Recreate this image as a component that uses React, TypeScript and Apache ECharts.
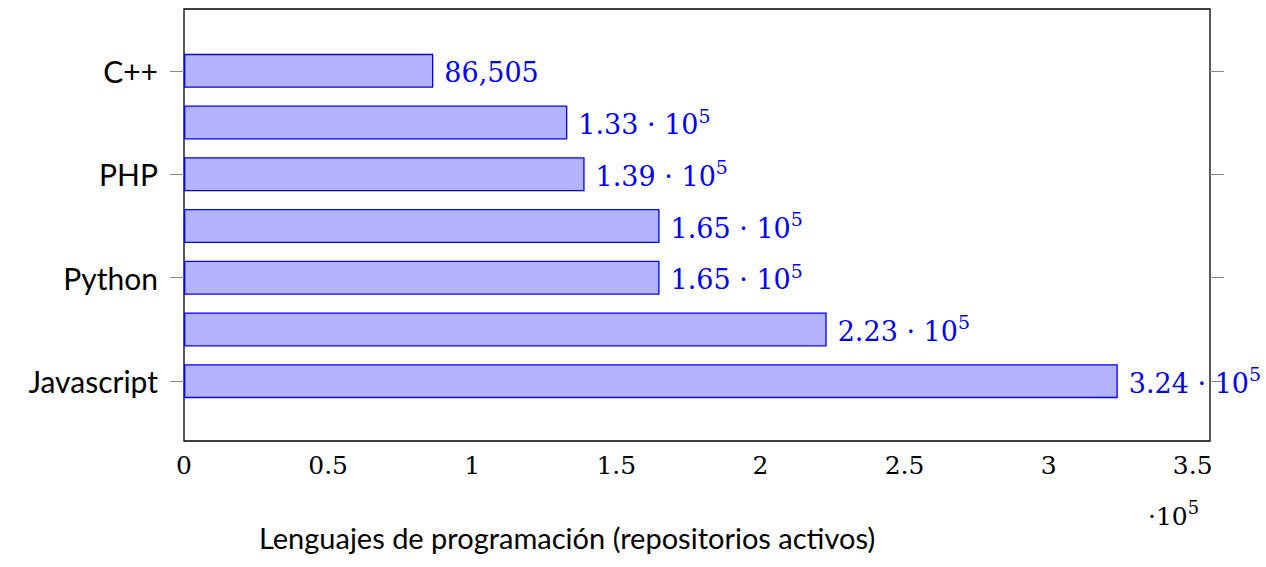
import React, { useEffect, useRef } from "react";
import * as echarts from "echarts";

const categories = ["Javascript", "", "Python", "", "PHP", "", "C++"];
const values = [324000, 223000, 165000, 165000, 139000, 133000, 86505];
const labelTexts = ["3.24", "2.23", "1.65", "1.65", "1.39", "1.33", "86,505"];
const xTicks = [0, 0.5, 1, 1.5, 2, 2.5, 3, 3.5];

export default function App() {
  const ref = useRef<HTMLDivElement>(null);
  useEffect(() => {
    const chart = echarts.init(ref.current!, null, { renderer: "svg" });
    const serif = "DejaVu Serif";
    const yAxisCommon = {
      type: "category" as const,
      data: categories,
      boundaryGap: true,
      splitLine: { show: false },
      axisLine: { show: false },
      axisTick: { show: true, inside: false, length: 14, alignWithLabel: true, interval: 1, lineStyle: { color: "#888" } },
    };
    chart.setOption({
      animation: false,
      grid: { left: 184, right: 56, top: 45, bottom: 160 },
      xAxis: {
        type: "value",
        min: 0,
        max: 3.56,
        interval: 0.5,
        offset: 34,
        axisLine: { show: false },
        splitLine: { show: false },
        axisTick: { inside: true, length: 14, lineStyle: { color: "#888" }, customValues: xTicks },
        axisLabel: { customValues: xTicks, fontFamily: serif, fontSize: 25, color: "#000", margin: 12, formatter: (v: number) => String(v) },
        name: "Lenguajes de programación (repositorios activos)",
        nameLocation: "middle",
        nameGap: 82,
        nameTextStyle: { fontFamily: "Lato", fontSize: 29, color: "#000", padding: [0, 260, 0, 0] },
      },
      yAxis: [
        {
          ...yAxisCommon,
          position: "left",
          axisLabel: { interval: 1, fontFamily: "Lato", fontSize: 30, color: "#000", margin: 26 },
        },
        { ...yAxisCommon, position: "right", axisLabel: { show: false } },
      ],
      series: [
        {
          type: "bar",
          barWidth: 34,
          data: values.map((v) => v / 1e5),
          itemStyle: { color: "#b3b3ff", borderColor: "#0000ff", borderWidth: 1.3 },
          label: {
            show: true,
            position: "right",
            distance: 11,
            color: "#0000ff",
            fontFamily: serif,
            fontSize: 27,
            formatter: (p: any) => {
              const t = labelTexts[p.dataIndex];
              return t.includes(",") ? "{b|" + t + "}" : "{b|" + t + " · 10}{s|5}";
            },
            rich: {
              b: { fontFamily: serif, fontSize: 27, color: "#0000ff", padding: [4, 0, 0, 0] },
              s: { fontFamily: serif, fontSize: 19, color: "#0000ff", padding: [0, 0, 14, 0] },
            },
          },
        },
      ],
      graphic: [
        {
          type: "rect",
          shape: { x: 184, y: 9, width: 1026, height: 432 },
          style: { fill: "none", stroke: "#000", lineWidth: 1.3 },
          silent: true,
        },
        {
          type: "text",
          left: 1148,
          top: 498,
          style: {
            text: "{b|·10}{s|5}",
            rich: {
              b: { fontFamily: serif, fontSize: 25, fill: "#000", padding: [4, 0, 0, 0] },
              s: { fontFamily: serif, fontSize: 18, fill: "#000", padding: [0, 0, 14, 0] },
            },
          },
        },
      ],
    });
    return () => chart.dispose();
  }, []);
  return <div ref={ref} style={{ position: "fixed", left: 0, top: 0, width: 1266, height: 567, background: "#fff" }} />;
}
